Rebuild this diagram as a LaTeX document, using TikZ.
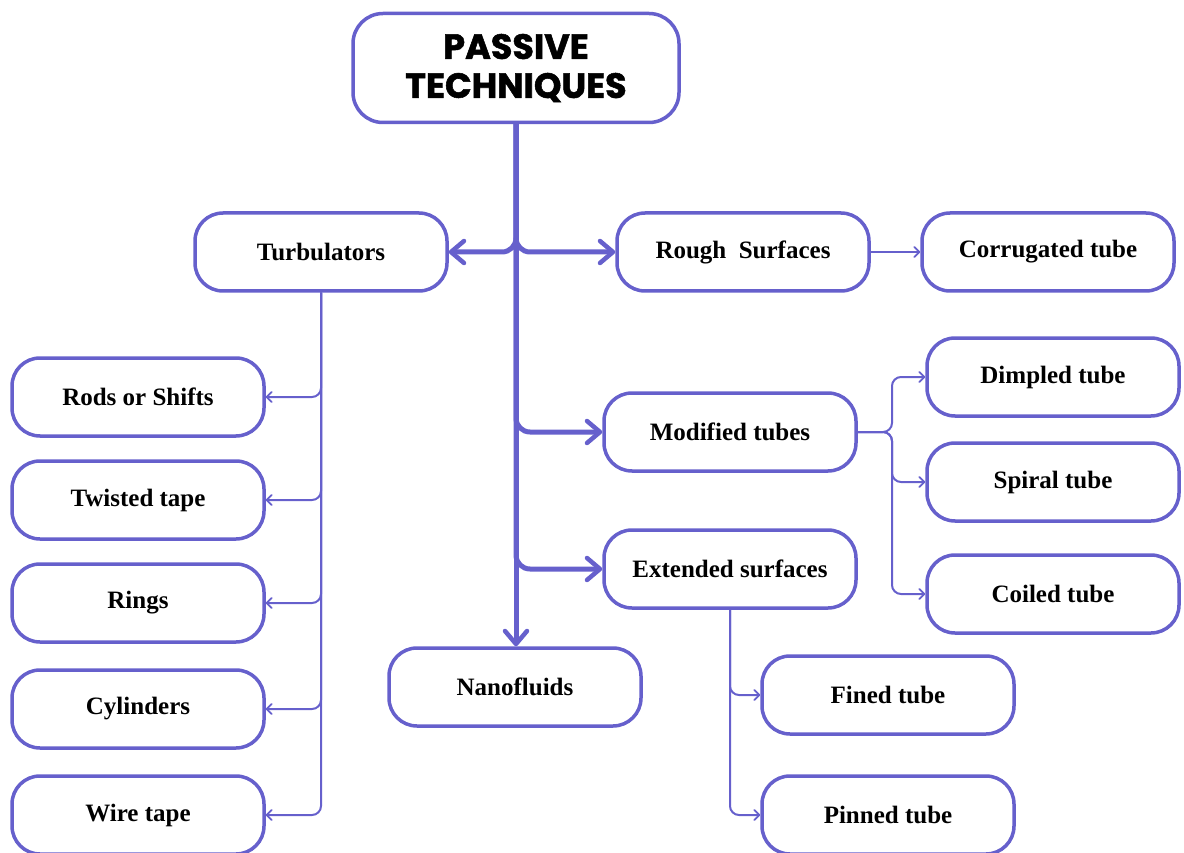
\documentclass[tikz,border=0pt]{standalone}
\usepackage{fontspec}
\setmainfont{Liberation Serif}
\newfontfamily\titlefont{Poppins}[BoldFont={* Bold},BoldFeatures={FakeBold=1.5}]
\usetikzlibrary{arrows.meta}
\definecolor{pc}{RGB}{102,96,204}
\tikzset{
  box/.style={draw=pc, line width=3.5pt, rounded corners=28pt, fill=white,
    minimum width=252pt, minimum height=78pt, align=center,
    font=\fontsize{25}{29}\selectfont\bfseries},
  titlebox/.style={draw=pc, line width=3.5pt, rounded corners=30pt, fill=white,
    minimum width=326pt, minimum height=109pt, align=center,
    font=\titlefont\fontsize{35}{39}\selectfont\bfseries},
  thickarr/.style={draw=pc, line width=5pt, rounded corners=14pt,
    -{Straight Barb[length=13pt,width=22pt,line width=4.5pt,round]}},
  thinarr/.style={draw=pc, line width=2pt, rounded corners=9pt,
    -{Straight Barb[length=5pt,width=10pt,line width=1.8pt,round]}},
}
\begin{document}
\begin{tikzpicture}[x=1pt,y=-1pt]
\useasboundingbox (0,0) rectangle (1184,853);
\coordinate (mj) at (892,432);
\node[titlebox] (title) at (516,68) {PASSIVE\\TECHNIQUES};
\node[box] (turb) at (321,252) {Turbulators};
\node[box] (rough) at (743,252) {Rough\ \ Surfaces};
\node[box] (corr) at (1048,252) {Corrugated tube};
\node[box] (rods) at (138,397) {Rods or Shifts};
\node[box] (twist) at (138,500) {Twisted tape};
\node[box] (rings) at (138,603) {Rings};
\node[box] (cyl) at (138,709) {Cylinders};
\node[box] (wire) at (138,815) {Wire tape};
\node[box] (mod) at (730,432) {Modified tubes};
\node[box] (ext) at (730,569) {Extended surfaces};
\node[box] (dimp) at (1053,377) {Dimpled tube};
\node[box] (spiral) at (1053,482) {Spiral tube};
\node[box] (coil) at (1053,594) {Coiled tube};
\node[box] (nano) at (515,687) {Nanofluids};
\node[box] (fin) at (888,695) {Fined tube};
\node[box] (pin) at (888,815) {Pinned tube};
% main trunk
\draw[thickarr] (title.south) -- (title.south |- nano.north);
\draw[thickarr] (title.south) |- (turb.east);
\draw[thickarr] (title.south) |- (rough.west);
\draw[thickarr] (title.south) |- (mod.west);
\draw[thickarr] (title.south) |- (ext.west);
% rough -> corrugated
\draw[thinarr] (rough.east) -- (corr.west);
% turbulators
\foreach \n in {rods,twist,rings,cyl,wire}
  \draw[thinarr] (turb.south) |- (\n.east);
% modified tubes
\foreach \n in {dimp,spiral,coil}
  \draw[thinarr] (mod.east) -- (mj) |- (\n.west);
% extended surfaces
\foreach \n in {fin,pin}
  \draw[thinarr] (ext.south) |- (\n.west);
\end{tikzpicture}
\end{document}
